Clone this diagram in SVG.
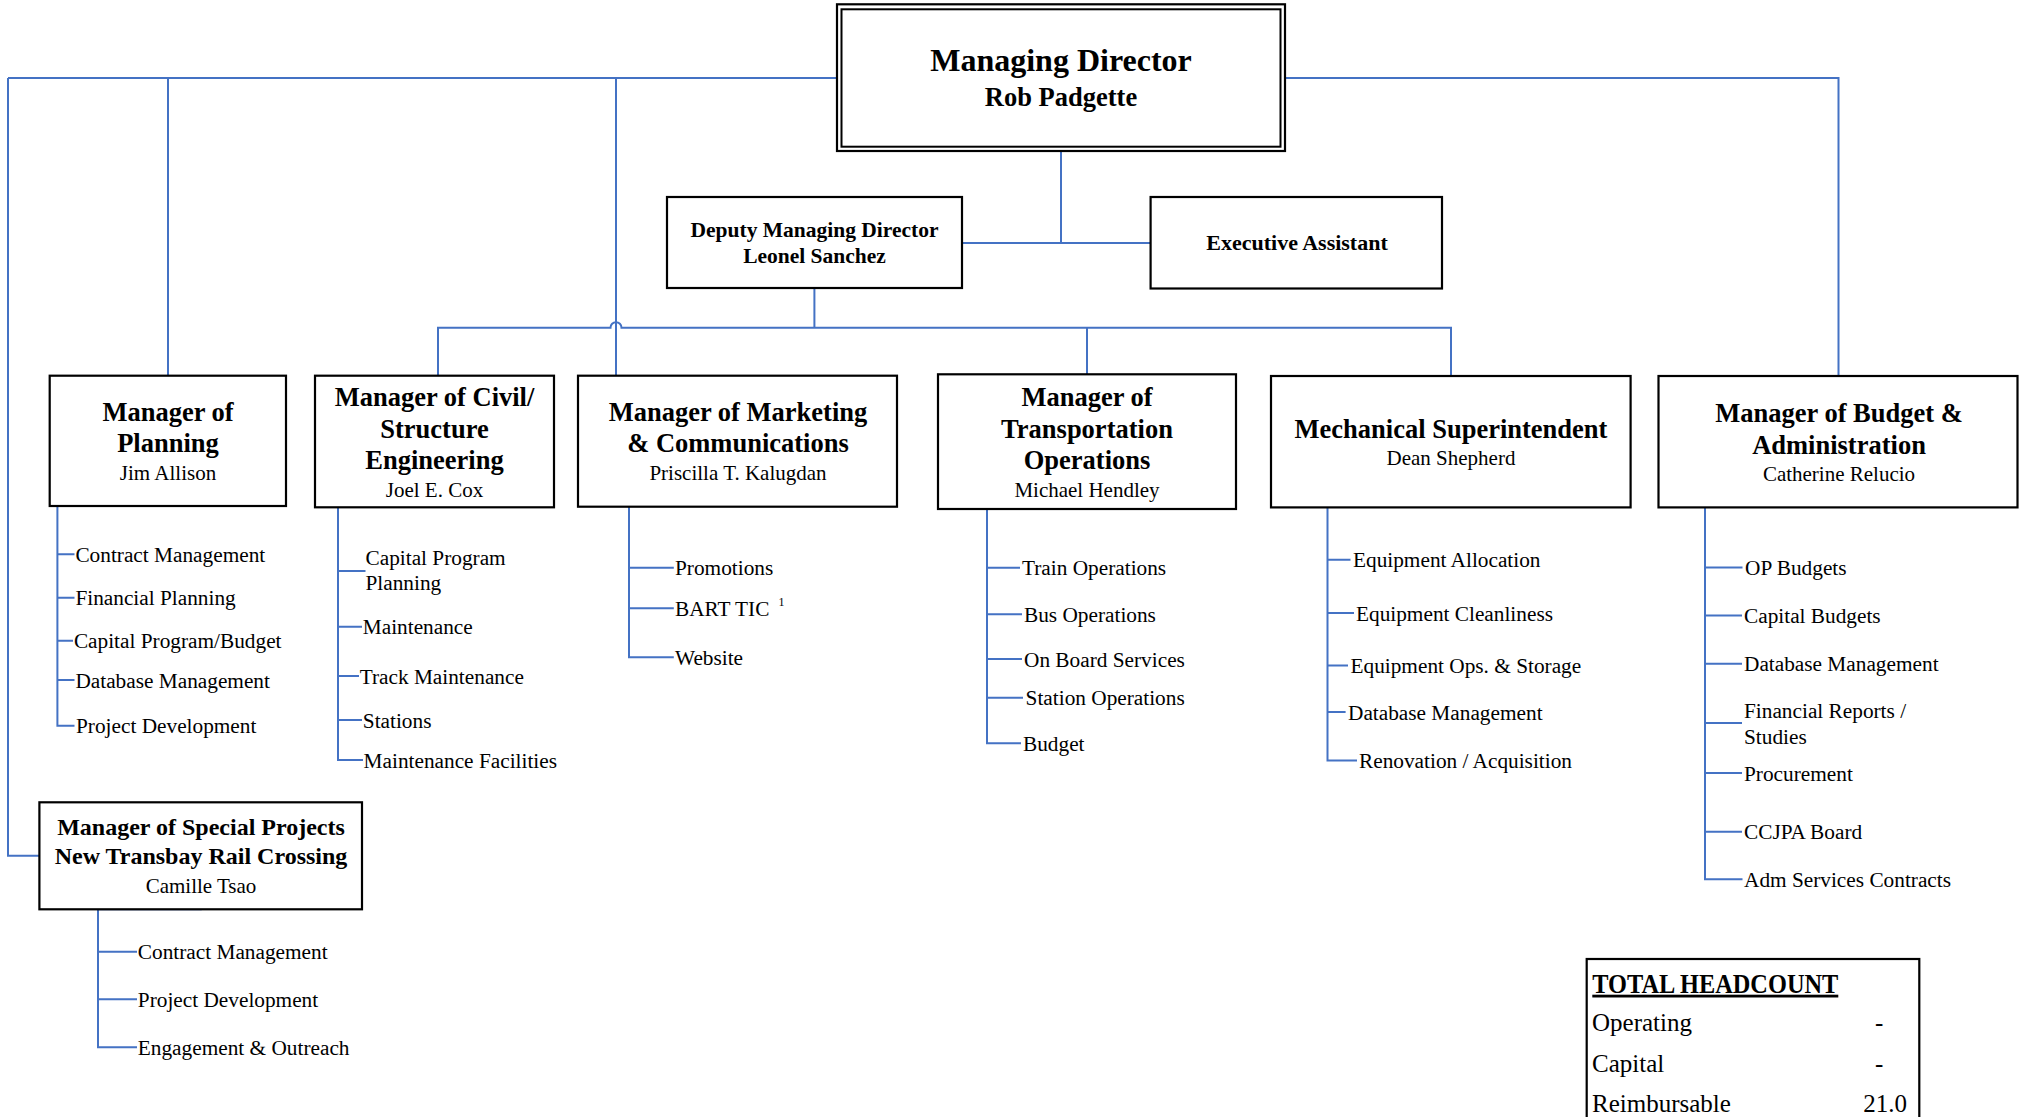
<svg xmlns="http://www.w3.org/2000/svg" width="2019" height="1117" viewBox="0 0 2019 1117">
  <style>
    text { font-family: "Liberation Serif", "Times New Roman", serif; fill: #000; }
    .box { fill: #fff; stroke: #000; stroke-width: 2.2; }
    .conn { fill: none; stroke: #4472C4; stroke-width: 2; }
    .title { font-weight: bold; font-size: 26.5px; text-anchor: middle; }
    .name { font-size: 21px; text-anchor: middle; }
    .item { font-size: 21.3px; }
    .hc { font-size: 25px; }
  </style>
  <rect width="2019" height="1117" fill="#fff"/>

  <!-- reporting lines -->
  <g id="connectors" class="conn">
    <path d="M8,78 H837 M1285,78 H1838.5 V376"/>
    <path d="M8,78 V855.7 H39.4"/>
    <path d="M168,78 V376"/>
    <path d="M616,78 V376"/>
    <path d="M1061,151 V243 M962,243 H1150.6"/>
    <path d="M814.4,288 V327.7"/>
    <path d="M438,376 V327.7 H610.5 A5.5,5.5 0 0 1 621.5,327.7 H1451 V376"/>
    <path d="M1087,327.7 V375"/>
    <!-- planning list -->
    <path d="M57.4,506 V725.7 H74.5 M57.4,554.3 H74.5 M57.4,597.7 H74.5 M57.4,640.7 H73 M57.4,680 H74.5"/>
    <!-- civil list -->
    <path d="M338,507 V760 H363 M338,571 H365.5 M338,626.7 H362 M338,676 H359 M338,720 H362"/>
    <!-- marketing list -->
    <path d="M629,507 V657.3 H673.8 M629,567.7 H673.8 M629,608.3 H673.8"/>
    <!-- transportation list -->
    <path d="M987,509 V743.3 H1021 M987,567.7 H1020 M987,614.3 H1022 M987,659 H1022 M987,697.7 H1023"/>
    <!-- mechanical list -->
    <path d="M1327.5,507 V760.5 H1357 M1327.5,559.7 H1350.5 M1327.5,613 H1354 M1327.5,665.4 H1348 M1327.5,712 H1345.6"/>
    <!-- budget list -->
    <path d="M1705,507 V879.3 H1742.5 M1705,567.6 H1742.5 M1705,615.5 H1742 M1705,663.7 H1742 M1705,723 H1742 M1705,773 H1742 M1705,831.8 H1742"/>
    <!-- special projects list -->
    <path d="M201.7,909.3 H98 V1047.3 H137 M98,951.7 H137 M98,999.3 H137"/>
  </g>

  <g id="managing-director">
    <rect x="837" y="4.3" width="448" height="146.7" fill="#fff" stroke="#000" stroke-width="2.2"/>
    <rect x="841.5" y="9.3" width="439" height="137.4" fill="none" stroke="#000" stroke-width="2"/>
    <text x="1061" y="71" font-size="32" font-weight="bold" text-anchor="middle">Managing Director</text>
    <text x="1061" y="106" font-size="26.5" font-weight="bold" text-anchor="middle">Rob Padgette</text>
  </g>

  <g id="deputy-managing-director">
    <rect class="box" x="667" y="197" width="295" height="91"/>
    <text x="814.5" y="236.7" font-size="21.5" font-weight="bold" text-anchor="middle">Deputy Managing Director</text>
    <text x="814.5" y="262.7" font-size="21.5" font-weight="bold" text-anchor="middle">Leonel Sanchez</text>
  </g>

  <g id="executive-assistant">
    <rect class="box" x="1150.6" y="197" width="291.4" height="91.5"/>
    <text x="1297" y="249.5" font-size="22" font-weight="bold" text-anchor="middle">Executive Assistant</text>
  </g>

  <g id="manager-planning">
    <rect class="box" x="49.7" y="375.7" width="236.3" height="130.3"/>
    <text class="title" x="168" y="421">Manager of</text>
    <text class="title" x="168" y="452.3">Planning</text>
    <text class="name" x="168" y="480">Jim Allison</text>
    <text class="item" x="75.4" y="561.8">Contract Management</text>
    <text class="item" x="75.4" y="605.2">Financial Planning</text>
    <text class="item" x="73.9" y="648.2">Capital Program/Budget</text>
    <text class="item" x="75.4" y="687.5">Database Management</text>
    <text class="item" x="76" y="733.2">Project Development</text>
  </g>

  <g id="manager-civil">
    <rect class="box" x="315" y="375.7" width="239" height="131.6"/>
    <text class="title" x="434.5" y="405.7">Manager of Civil/</text>
    <text class="title" x="434.5" y="437.7">Structure</text>
    <text class="title" x="434.5" y="469.3">Engineering</text>
    <text class="name" x="434.5" y="496.7">Joel E. Cox</text>
    <text class="item" x="365.5" y="565">Capital Program</text>
    <text class="item" x="365.5" y="590">Planning</text>
    <text class="item" x="362.8" y="634.2">Maintenance</text>
    <text class="item" x="359.7" y="683.5">Track Maintenance</text>
    <text class="item" x="362.8" y="727.5">Stations</text>
    <text class="item" x="363.6" y="767.5">Maintenance Facilities</text>
  </g>

  <g id="manager-marketing">
    <rect class="box" x="578" y="375.7" width="319" height="131"/>
    <text class="title" x="738" y="421">Manager of Marketing</text>
    <text class="title" x="738" y="452.3">&amp; Communications</text>
    <text class="name" x="738" y="480">Priscilla T. Kalugdan</text>
    <text class="item" x="675" y="575.2">Promotions</text>
    <text class="item" x="675" y="615.8">BART TIC</text>
    <text x="778.5" y="606" font-size="12">1</text>
    <text class="item" x="675" y="664.8">Website</text>
  </g>

  <g id="manager-transportation">
    <rect class="box" x="938" y="374.3" width="298" height="134.7"/>
    <text class="title" x="1087" y="405.7">Manager of</text>
    <text class="title" x="1087" y="437.7">Transportation</text>
    <text class="title" x="1087" y="469.3">Operations</text>
    <text class="name" x="1087" y="496.7">Michael Hendley</text>
    <text class="item" x="1022" y="575.2">Train Operations</text>
    <text class="item" x="1024" y="621.8">Bus Operations</text>
    <text class="item" x="1024" y="666.5">On Board Services</text>
    <text class="item" x="1025.6" y="705.2">Station Operations</text>
    <text class="item" x="1023" y="750.8">Budget</text>
  </g>

  <g id="mechanical-superintendent">
    <rect class="box" x="1271" y="376" width="359.6" height="131.4"/>
    <text class="title" x="1451" y="437.5">Mechanical Superintendent</text>
    <text class="name" x="1451" y="465">Dean Shepherd</text>
    <text class="item" x="1353" y="567.2">Equipment Allocation</text>
    <text class="item" x="1356" y="620.5">Equipment Cleanliness</text>
    <text class="item" x="1350.5" y="672.9">Equipment Ops. &amp; Storage</text>
    <text class="item" x="1348" y="719.5">Database Management</text>
    <text class="item" x="1359" y="768">Renovation / Acquisition</text>
  </g>

  <g id="manager-budget">
    <rect class="box" x="1658.5" y="376" width="359" height="131.4"/>
    <text class="title" x="1839" y="422">Manager of Budget &amp;</text>
    <text class="title" x="1839" y="453.7">Administration</text>
    <text class="name" x="1839" y="480.5">Catherine Relucio</text>
    <text class="item" x="1745" y="575.1">OP Budgets</text>
    <text class="item" x="1744" y="623">Capital Budgets</text>
    <text class="item" x="1744" y="671.2">Database Management</text>
    <text class="item" x="1744" y="718">Financial Reports /</text>
    <text class="item" x="1744" y="744">Studies</text>
    <text class="item" x="1744" y="780.5">Procurement</text>
    <text class="item" x="1744" y="839.3">CCJPA Board</text>
    <text class="item" x="1744" y="886.8">Adm Services Contracts</text>
  </g>

  <g id="manager-special-projects">
    <rect class="box" x="39.4" y="802.3" width="322.6" height="107"/>
    <text x="201" y="835" font-size="24" font-weight="bold" text-anchor="middle">Manager of Special Projects</text>
    <text x="201" y="864.3" font-size="24" font-weight="bold" text-anchor="middle">New Transbay Rail Crossing</text>
    <text class="name" x="201" y="893.3">Camille Tsao</text>
    <text class="item" x="137.8" y="959.2">Contract Management</text>
    <text class="item" x="137.8" y="1006.8">Project Development</text>
    <text class="item" x="137.8" y="1054.8">Engagement &amp; Outreach</text>
  </g>

  <g id="total-headcount">
    <rect class="box" x="1586.7" y="959" width="332.6" height="170"/>
    <text x="1592.3" y="992.7" font-size="28" font-weight="bold" text-decoration="underline" textLength="246" lengthAdjust="spacingAndGlyphs">TOTAL HEADCOUNT</text>
    <text class="hc" x="1592" y="1030.7">Operating</text>
    <text class="hc" x="1875" y="1030.7">-</text>
    <text class="hc" x="1592" y="1071.7">Capital</text>
    <text class="hc" x="1875" y="1071.7">-</text>
    <text class="hc" x="1592" y="1111.7">Reimbursable</text>
    <text class="hc" x="1907" y="1111.7" text-anchor="end">21.0</text>
  </g>
</svg>
